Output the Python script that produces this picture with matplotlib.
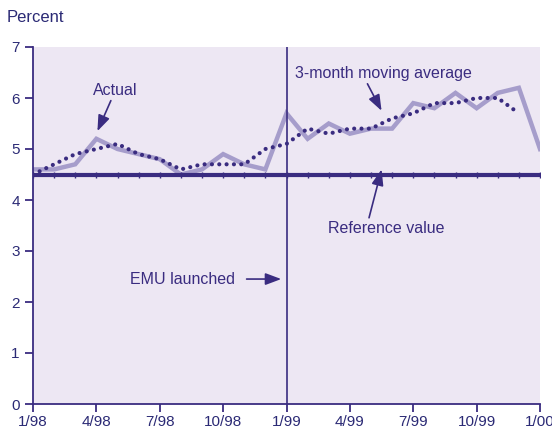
import numpy as np
import matplotlib
matplotlib.use('Agg')
import matplotlib.pyplot as plt

plt.rcParams['font.family'] = ['Liberation Sans', 'DejaVu Sans']

# monthly data, 1/98 .. 1/00
months = np.arange(25)
actual = [4.6, 4.6, 4.7, 5.2, 5.0, 4.9, 4.8, 4.5, 4.6, 4.9, 4.7, 4.6, 5.7,
          5.2, 5.5, 5.3, 5.4, 5.4, 5.9, 5.8, 6.1, 5.8, 6.1, 6.2, 5.0]
moving_avg = [4.5, 4.7, 4.9, 5.0, 5.1, 4.9, 4.8, 4.6, 4.7, 4.7, 4.7, 5.0,
              5.1, 5.4, 5.3, 5.4, 5.4, 5.6, 5.7, 5.9, 5.9, 6.0, 6.0, 5.7]
reference_value = 4.5
emu_month = 12
tick_pos = [0, 3, 6, 9, 12, 15, 18, 21, 24]
tick_labels = ['1/98', '4/98', '7/98', '10/98', '1/99', '4/99', '7/99', '10/99', '1/00']

dark = '#3a2c80'
light = '#a69dcb'
bg = '#ede7f3'

fig = plt.figure(figsize=(5.52, 4.29), dpi=100)
ax = fig.add_axes([33 / 552, 25 / 429, 507 / 552, 357 / 429])
ax.set_facecolor(bg)

ax.plot(months, actual, color=light, lw=3.2, solid_joinstyle='miter', zorder=2)
ax.plot(months[:len(moving_avg)], moving_avg, color=dark, lw=3,
        linestyle=(0, (0.01, 1.75)), dash_capstyle='round', zorder=3)
ax.axhline(reference_value, color=dark, lw=3, zorder=4)
ax.plot(months, [reference_value] * len(months), linestyle='none', marker='|',
        ms=5, mew=1, color=dark, zorder=4)
ax.axvline(emu_month, color=dark, lw=1.2, zorder=4)

ax.set_xlim(0, 24)
ax.set_ylim(0, 7)
ax.set_xticks(tick_pos)
ax.set_xticklabels(tick_labels)
ax.set_yticks(range(8))

for s in ['top', 'right']:
    ax.spines[s].set_visible(False)
for s in ['left', 'bottom']:
    ax.spines[s].set_color(dark)
    ax.spines[s].set_linewidth(1.3)
ax.tick_params(colors=dark, labelcolor='#2b2a75', labelsize=11, length=6, width=1.3)
ax.tick_params(axis='x', pad=2)

fig.text(7 / 552, 1 - 18 / 429, 'Percent', color='#2b2a75', fontsize=12, va='center')

arrow = dict(arrowstyle='-|>,head_length=0.8,head_width=0.3', color=dark, lw=1.2,
             mutation_scale=12, shrinkA=0, shrinkB=0)
ax.annotate('Actual', xy=(3.05, 5.35), xytext=(3.9, 6.15), color=dark,
            fontsize=11.5, ha='center', va='center', arrowprops=arrow)
ax.annotate('3-month moving average', xy=(16.5, 5.75), xytext=(16.6, 6.48),
            color=dark, fontsize=11.5, ha='center', va='center',
            arrowprops=dict(arrow, relpos=(0.4, 0)))
ax.annotate('Reference value', xy=(16.5, 4.6), xytext=(16.7, 3.45),
            color=dark, fontsize=11.5, ha='center', va='center',
            arrowprops=dict(arrow, relpos=(0.35, 1)))
ax.annotate('EMU launched', xy=(11.75, 2.45), xytext=(7.1, 2.45),
            color=dark, fontsize=11.5, ha='center', va='center',
            arrowprops=dict(arrow, relpos=(1, 0.5), shrinkA=6))

fig.savefig('out.png', dpi=100)
